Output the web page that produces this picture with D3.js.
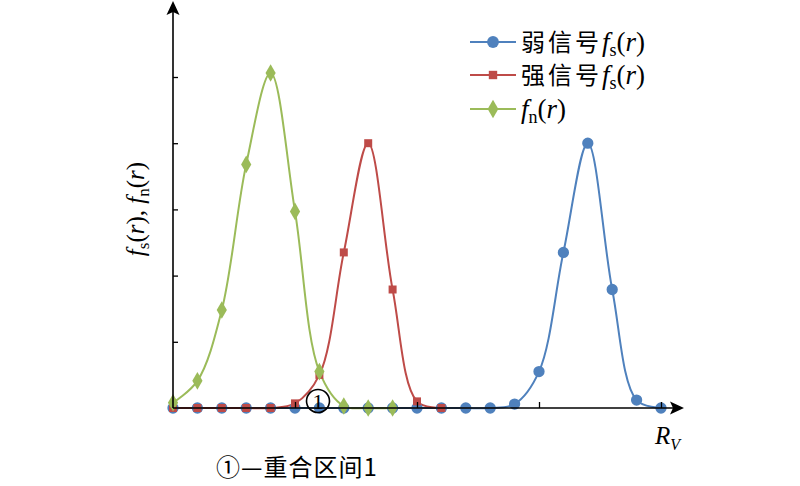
<!DOCTYPE html>
<html><head><meta charset="utf-8">
<script src="https://cdn.jsdelivr.net/npm/d3@7"></script>
<style>body{margin:0;background:#fff}svg{display:block}</style>
</head><body>
<svg id="c" width="800" height="486"></svg>
<script>
// ---- data ----
const xIndex = d3.range(0, 21);
const weakSignal = [0,0,0,0,0,0,0,0,0,0,0,0,0,0,0.06,0.55,2.35,4,1.79,0.12,0];
const strongSignal = [0,0,0,0,0,0.07,0.5,2.35,4,1.79,0.1,0];
const noise = [0.08,0.41,1.48,3.68,5.06,2.97,0.55,0.03,0,0];
const yTicks = [1,2,3,4,5];
const xTicks = [5,10,15,20];
const legendLabels = [
  {cn:"弱信号", f:"f", sub:"s"},
  {cn:"强信号", f:"f", sub:"s"},
  {cn:"", f:"f", sub:"n"}
];
const annotation = "①—重合区间1";

// ---- styles ----
const colors = ["#4F81BD", "#BE4B48", "#9BBB59"];
const svg = d3.select("#c");
const x = d3.scaleLinear().domain([0,20]).range([173,661]);
const y = d3.scaleLinear().domain([0,5]).range([408,77]);
const serif = "'Liberation Serif','Times New Roman',serif";
const cjk = "'Noto Sans CJK SC',sans-serif";

const line = d3.line().x((d,i)=>x(i)).y(d=>y(d)).curve(d3.curveCatmullRom.alpha(0.5));

const seriesList = [weakSignal, strongSignal, noise];
const markerSym = [d3.symbolCircle, d3.symbolSquare, d3.symbolDiamond];
const markerSize = [100, 64, 90];

// lines and markers: blue, red, green order
seriesList.forEach((s, k) => {
  svg.append("path").attr("d", line(s)).attr("fill","none")
    .attr("stroke", colors[k]).attr("stroke-width", 2);
});
seriesList.forEach((s, k) => {
  svg.append("g").selectAll("path").data(s).join("path")
    .attr("transform", (d,i)=>`translate(${x(i)},${y(d)})`)
    .attr("d", d3.symbol().type(markerSym[k]).size(markerSize[k]))
    .attr("fill", colors[k]);
});

// axes
const yAxis = d3.axisRight(y).tickValues(yTicks).tickSize(5).tickFormat("");
const gy = svg.append("g").attr("transform","translate(173,0)").call(yAxis);
gy.select(".domain").remove();
gy.selectAll("line").attr("stroke","#000").attr("stroke-width",1.3);
const xAxis = d3.axisTop(x).tickValues(xTicks).tickSize(6).tickFormat("");
const gx = svg.append("g").attr("transform","translate(0,408)").call(xAxis);
gx.select(".domain").remove();
gx.selectAll("line").attr("stroke","#000").attr("stroke-width",1.3);

svg.append("line").attr("x1",173).attr("y1",408).attr("x2",173).attr("y2",10)
  .attr("stroke","#000").attr("stroke-width",1.6);
svg.append("line").attr("x1",173).attr("y1",408).attr("x2",675).attr("y2",408)
  .attr("stroke","#000").attr("stroke-width",1.6);
svg.append("path").attr("d","M173,1 L166.5,15 L173,12 L179.5,15 Z").attr("fill","#000");
svg.append("path").attr("d","M684,408 L670,401.5 L673,408 L670,414.5 Z").attr("fill","#000");

// annotation circle
svg.append("circle").attr("cx",318).attr("cy",401).attr("r",11.5)
  .attr("fill","none").attr("stroke","#000").attr("stroke-width",1.6);
svg.append("text").attr("x",318).attr("y",409).attr("text-anchor","middle")
  .attr("font-family",serif).attr("font-size",22).text("1");

// legend
legendLabels.forEach((L, k) => {
  const cy = [42, 75, 109][k];
  svg.append("line").attr("x1",470).attr("x2",516).attr("y1",cy).attr("y2",cy)
    .attr("stroke",colors[k]).attr("stroke-width",2);
  svg.append("path").attr("transform",`translate(493,${cy})`)
    .attr("d", d3.symbol().type(markerSym[k]).size(markerSize[k]*1.1)).attr("fill",colors[k]);
  const t = svg.append("text").attr("x",521).attr("y",cy+9).attr("font-size",27).attr("fill","#000");
  if (L.cn) t.append("tspan").attr("font-family",cjk).attr("font-size",24).attr("letter-spacing",3).text(L.cn);
  t.append("tspan").attr("font-family",serif).attr("font-style","italic").text(L.f);
  t.append("tspan").attr("font-family",serif).attr("font-size",18).attr("dy",5).text(L.sub);
  t.append("tspan").attr("font-family",serif).attr("dy",-5).text("(");
  t.append("tspan").attr("font-family",serif).attr("font-style","italic").text("r");
  t.append("tspan").attr("font-family",serif).text(")");
});

// y label
const yl = svg.append("text").attr("transform","translate(144,209) rotate(-90)")
  .attr("text-anchor","middle").attr("font-family",serif).attr("font-size",25);
yl.append("tspan").attr("font-style","italic").text("f");
yl.append("tspan").attr("font-size",17).attr("dy",5).text("s");
yl.append("tspan").attr("dy",-5).text("(");
yl.append("tspan").attr("font-style","italic").text("r");
yl.append("tspan").text("), ");
yl.append("tspan").attr("font-style","italic").text("f");
yl.append("tspan").attr("font-size",17).attr("dy",5).text("n");
yl.append("tspan").attr("dy",-5).text("(");
yl.append("tspan").attr("font-style","italic").text("r");
yl.append("tspan").text(")");

// x label
const xl = svg.append("text").attr("x",655).attr("y",444).attr("font-family",serif).attr("font-size",25);
xl.append("tspan").attr("font-style","italic").text("R");
xl.append("tspan").attr("font-style","italic").attr("font-size",16).attr("dy",6).text("V");

// bottom annotation
svg.append("text").attr("x",216).attr("y",476).attr("font-family",cjk).attr("font-size",24)
  .attr("letter-spacing",1).text(annotation);
</script>
</body></html>
